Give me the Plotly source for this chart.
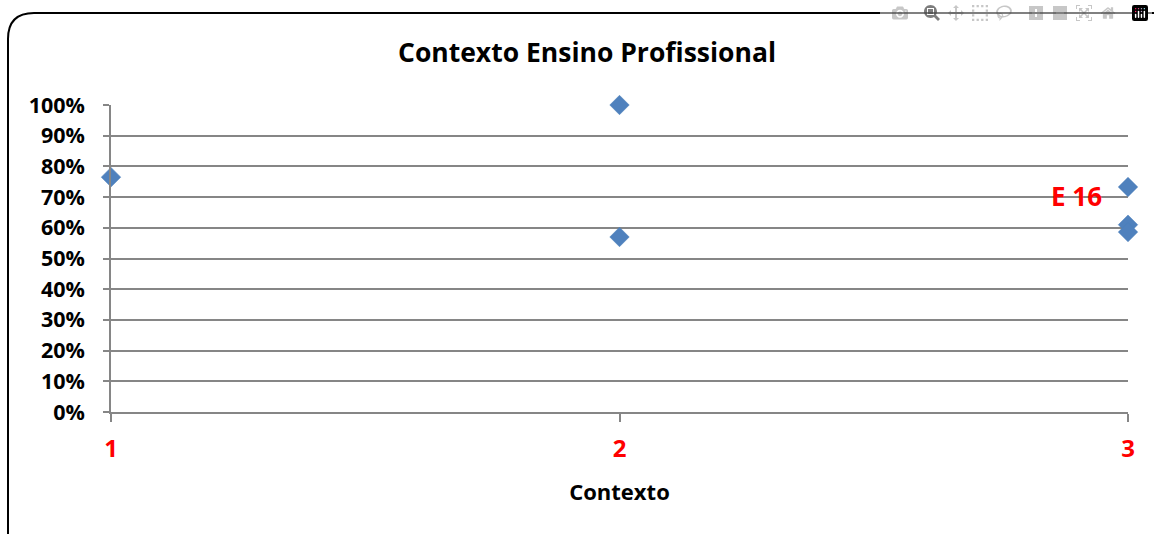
import plotly.graph_objects as go

contexto = [1, 2, 2, 3, 3, 3]
valores = [0.765, 1.0, 0.57, 0.733, 0.61, 0.586]
x_ticks = [1, 2, 3]
x_tick_labels = ["1", "2", "3"]
y_ticks = [i / 10 for i in range(11)]
y_tick_labels = [f"{i*10}%" for i in range(11)]
label_text = "E 16"
label_point = (3, 0.733)

W, H = 1154, 534
L, R, T, B = 111, 1128, 105, 412
FONT = "Open Sans, sans-serif"

fig = go.Figure()
fig.add_trace(go.Scatter(
    x=contexto, y=valores, mode="markers",
    marker=dict(symbol="diamond", size=15, color="#4F81BD",
                line=dict(width=0.5, color="#4A7EBB")),
    cliponaxis=False, showlegend=False,
))

fig.add_annotation(x=label_point[0], y=label_point[1], text=f"<b>{label_text}</b>",
                   showarrow=False, xanchor="right", yanchor="middle",
                   xshift=-24, yshift=-9,
                   font=dict(family=FONT, size=26, color="#FF0000"))

def px(xp):
    return (xp - L) / (R - L)
def py(yp):
    return (B - yp) / (B - T)
bx, by, br = 8, 13, 26
bx_end, by_end = W + 10, H + 10
border = dict(color="black", width=2)
border_path = (f"M {px(bx)},{py(by_end)} L {px(bx)},{py(by + br)} "
               f"Q {px(bx)},{py(by)} {px(bx + br)},{py(by)} "
               f"L {px(bx_end)},{py(by)}")
fig.add_shape(type="path", xref="paper", yref="paper", path=border_path,
              line=border, fillcolor="rgba(0,0,0,0)", layer="above")

fig.update_layout(
    width=W, height=H,
    margin=dict(l=L, r=W - R, t=T, b=H - B),
    paper_bgcolor="white", plot_bgcolor="white",
    title=dict(text="<b>Contexto Ensino Profissional</b>", x=587 / W, xanchor="center",
               y=1 - 53 / H, yanchor="middle",
               font=dict(family=FONT, size=26.5, color="black")),
    font=dict(family=FONT, color="black"),
)
fig.update_xaxes(range=[1, 3], tickvals=x_ticks, ticktext=[f"<b>{t}</b>" for t in x_tick_labels],
                 tickfont=dict(size=24, color="#FF0000", family=FONT),
                 showgrid=False, zeroline=False, showline=True, linecolor="#868686", linewidth=1.5,
                 ticks="outside", ticklen=8, tickcolor="#868686", tickwidth=1.5,
                 ticklabelstandoff=6,
                 title=dict(text="<b>Contexto</b>", font=dict(size=22, family=FONT, color="black"), standoff=22))
fig.update_yaxes(range=[0, 1], tickvals=y_ticks, ticktext=[f"<b>{t}</b>" for t in y_tick_labels],
                 tickfont=dict(size=21.5, color="black", family=FONT),
                 showgrid=True, gridcolor="#868686", gridwidth=1.5, zeroline=False,
                 showline=True, linecolor="#868686", linewidth=1.5,
                 ticks="outside", ticklen=6, tickcolor="#868686", tickwidth=1.5,
                 ticklabelstandoff=14)

fig.write_html("out.html",
               post_script="document.body.style.margin='0';document.body.style.overflow='hidden';")
